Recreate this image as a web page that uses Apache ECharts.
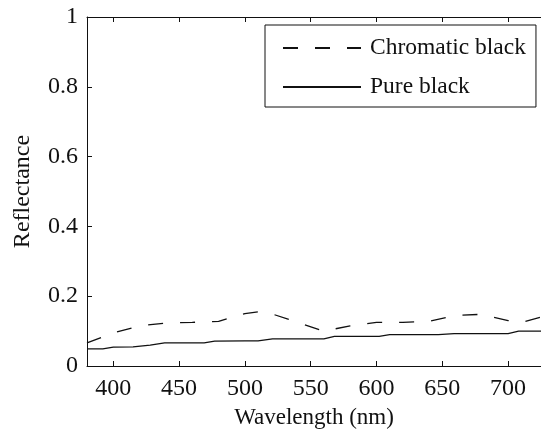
<!DOCTYPE html>
<html>
<head>
<meta charset="utf-8">
<script src="https://cdn.jsdelivr.net/npm/echarts@6/dist/echarts.min.js"></script>
<style>
  html, body { margin: 0; padding: 0; background: #fff; }
  #myLineChart { width: 541px; height: 431px; }
</style>
</head>
<body>
<div id="myLineChart"></div>
<script>
// values
var chromaticNm  = [380, 400, 420, 440, 460, 480, 500, 510, 520, 540, 560, 580, 600, 620, 640, 660, 680, 700, 710, 725];
var chromaticVal = [0.066, 0.095, 0.115, 0.123, 0.125, 0.128, 0.150, 0.155, 0.150, 0.125, 0.100, 0.115, 0.125, 0.125, 0.128, 0.145, 0.148, 0.130, 0.125, 0.140];

var pureNm  = [380, 392, 400, 415, 428, 439, 469, 477, 500, 510, 521, 560, 568, 602, 610, 647, 659, 700, 708, 725];
var pureVal = [0.049, 0.049, 0.054, 0.055, 0.060, 0.066, 0.066, 0.071, 0.072, 0.072, 0.078, 0.078, 0.085, 0.085, 0.090, 0.090, 0.093, 0.093, 0.100, 0.100];

var xTicks = [400, 450, 500, 550, 600, 650, 700];

function pairs(xs, ys) {
    return xs.map(function (x, i) { return [x, ys[i]]; });
}

var font = 'Liberation Serif';
var ink = '#111';

var myChart = echarts.init(document.getElementById('myLineChart'));
var option = {
    animation: false,
    backgroundColor: '#fff',
    grid: {
        left: 87, right: 0, top: 17, bottom: 65,
        outerBoundsMode: 'none'
    },
    legend: {
        orient: 'vertical',
        left: 265,
        top: 25,
        padding: [11, 10, 8, 17],
        borderColor: ink,
        borderWidth: 1,
        itemWidth: 78,
        itemHeight: 24,
        itemGap: 15,
        itemStyle: { opacity: 0 },
        textStyle: { fontFamily: font, fontSize: 23.5, color: ink, padding: [0, 0, 0, 4] },
        data: ['Chromatic black', 'Pure black']
    },
    xAxis: [
        {
            type: 'value',
            min: 380,
            max: 725,
            name: 'Wavelength (nm)',
            nameLocation: 'middle',
            nameGap: 40,
            nameTextStyle: { fontFamily: font, fontSize: 23, color: ink },
            axisLine: { show: true, lineStyle: { color: ink, width: 1 } },
            axisTick: { show: true, inside: true, length: 5, customValues: xTicks, lineStyle: { color: ink } },
            axisLabel: { customValues: xTicks, margin: 11, fontFamily: font, fontSize: 24, color: ink },
            splitLine: { show: false }
        },
        {
            type: 'value',
            position: 'top',
            min: 380,
            max: 725,
            axisLine: { show: true, lineStyle: { color: ink, width: 1 } },
            axisTick: { show: true, inside: true, length: 5, customValues: xTicks, lineStyle: { color: ink } },
            axisLabel: { show: false },
            splitLine: { show: false }
        }
    ],
    yAxis: {
        type: 'value',
        min: 0,
        max: 1,
        interval: 0.2,
        name: 'Reflectance',
        nameLocation: 'middle',
        nameGap: 52,
        nameTextStyle: { fontFamily: font, fontSize: 24, color: ink },
        axisLine: { show: true, lineStyle: { color: ink, width: 1 } },
        axisTick: { show: true, inside: true, length: 5, lineStyle: { color: ink } },
        axisLabel: { margin: 9, fontFamily: font, fontSize: 24, color: ink },
        splitLine: { show: false }
    },
    series: [
        {
            name: 'Chromatic black',
            type: 'line',
            symbol: 'none',
            color: ink,
            lineStyle: { color: ink, width: 1.3, type: [15, 17] },
            data: pairs(chromaticNm, chromaticVal)
        },
        {
            name: 'Pure black',
            type: 'line',
            symbol: 'none',
            color: ink,
            lineStyle: { color: ink, width: 1.3, type: 'solid' },
            data: pairs(pureNm, pureVal)
        }
    ]
};
myChart.setOption(option);
</script>
</body>
</html>
